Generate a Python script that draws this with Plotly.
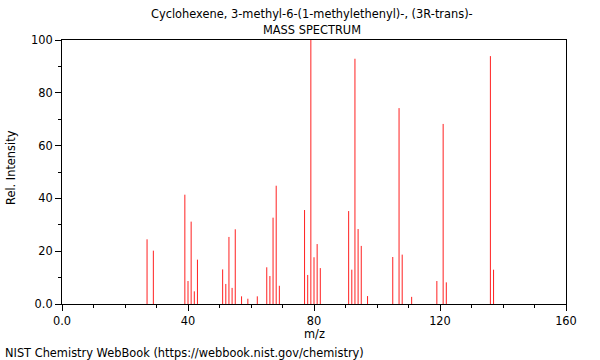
import plotly.graph_objects as go

mz = [27, 29, 39, 40, 41, 42, 43, 51, 52, 53, 54, 55, 57, 59, 62, 65, 66, 67, 68, 69,
      77, 78, 79, 80, 81, 82, 91, 92, 93, 94, 95, 97, 105, 107, 108, 111, 119, 121, 122, 136, 137]
intensity = [24.5, 20.2, 41.4, 8.7, 31.2, 4.8, 16.8, 13.1, 7.6, 25.4, 6.1, 28.3, 2.9, 2.0, 2.9,
             13.9, 10.6, 32.7, 44.8, 6.9,
             35.6, 11.0, 100.0, 17.7, 22.7, 13.6, 35.2, 13.0, 92.9, 28.4, 22.0, 3.0,
             17.8, 74.2, 18.7, 2.7, 8.7, 68.2, 8.2, 93.9, 13.0]

x_tickvals = [0, 40, 80, 120, 160]
x_ticktext = ["0.0", "40", "80", "120", "160"]
y_tickvals = [0, 20, 40, 60, 80, 100]
y_ticktext = ["0.0", "20", "40", "60", "80", "100"]

title_line1 = "Cyclohexene, 3-methyl-6-(1-methylethenyl)-, (3R-trans)-"
title_line2 = "MASS SPECTRUM"
footer = "NIST Chemistry WebBook (https://webbook.nist.gov/chemistry)"
x_title = "m/z"
y_title = "Rel. Intensity"

# stick spectrum: one vertical segment per peak
xs, ys = [], []
for m, v in zip(mz, intensity):
    xs += [m, m, None]
    ys += [0, v, None]

fig = go.Figure()
fig.add_trace(go.Scatter(x=xs, y=ys, mode="lines", line=dict(color="#ff2020", width=1),
                         hoverinfo="skip"))

font = dict(family="DejaVu Sans", size=11.4, color="black")

L, R, T, B = 62, 34, 40, 56
pw = 600 - L - R
ph = 360 - T - B
def px_to_paper(px, py):
    return (px - L) / pw, (360 - B - py) / ph

x1, y1 = px_to_paper(312, 14)
x2, y2 = px_to_paper(312, 30)
x3, y3 = px_to_paper(3, 352.5)
x4, y4 = px_to_paper(314, 334)
x5, y5 = px_to_paper(11, 168)

fig.update_layout(
    width=600, height=360,
    margin=dict(l=L, r=R, t=T, b=B),
    paper_bgcolor="white", plot_bgcolor="white",
    showlegend=False,
    font=font,
    xaxis=dict(range=[0, 160], tickmode="array", tickvals=x_tickvals, ticktext=x_ticktext,
               ticks="outside", ticklen=6, tickcolor="black", showgrid=False, zeroline=False,
               showline=True, linecolor="black", linewidth=1, mirror=True, automargin=False,
               minor=dict(dtick=10, ticks="outside", ticklen=3, tickcolor="black", showgrid=False),
               tickfont=font),
    yaxis=dict(range=[0, 100], tickmode="array", tickvals=y_tickvals, ticktext=y_ticktext,
               ticks="outside", ticklen=6, tickcolor="black", showgrid=False, zeroline=False,
               showline=True, linecolor="black", linewidth=1, mirror=True, automargin=False,
               minor=dict(dtick=10, ticks="outside", ticklen=3, tickcolor="black", showgrid=False),
               tickfont=font),
    annotations=[
        dict(text=title_line1, x=x1, y=y1, xref="paper", yref="paper", showarrow=False,
             font=font, xanchor="center", yanchor="middle"),
        dict(text=title_line2, x=x2, y=y2, xref="paper", yref="paper", showarrow=False,
             font=font, xanchor="center", yanchor="middle"),
        dict(text=footer, x=x3, y=y3, xref="paper", yref="paper", showarrow=False,
             font=font, xanchor="left", yanchor="middle"),
        dict(text=x_title, x=x4, y=y4, xref="paper", yref="paper", showarrow=False,
             font=font, xanchor="center", yanchor="middle"),
        dict(text=y_title, x=x5, y=y5, xref="paper", yref="paper", showarrow=False,
             font=font, xanchor="center", yanchor="middle", textangle=-90),
    ],
)

fig.write_html("out.html", config={"displayModeBar": False},
               post_script="document.body.style.margin='0';document.body.style.overflow='hidden';")
